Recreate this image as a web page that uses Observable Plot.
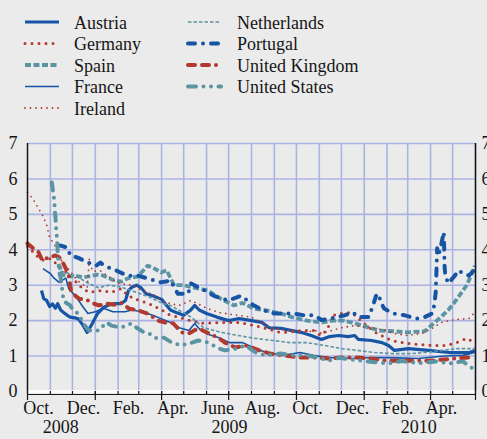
<!DOCTYPE html>
<html><head><meta charset="utf-8">
<script src="https://cdn.jsdelivr.net/npm/d3@7"></script>
<script src="https://cdn.jsdelivr.net/npm/@observablehq/plot@0.6"></script>
<style>
html,body{margin:0;padding:0;background:#ebebeb;overflow:hidden;}
#chart svg{display:block;}
</style></head><body>
<div id="chart"></div>
<script>
// ---- data (value in %, by date) ----
const austria = [["2008-10-20",2.85],["2008-10-23",2.62],["2008-10-27",2.57],["2008-10-31",2.4],["2008-11-04",2.47],["2008-11-08",2.35],["2008-11-11",2.48],["2008-11-15",2.3],["2008-11-19",2.23],["2008-11-24",2.15],["2008-11-28",2.1],["2008-12-04",2.08],["2008-12-09",2.05],["2008-12-15",1.88],["2008-12-21",1.67],["2008-12-28",1.92],["2009-01-04",2.2],["2009-01-12",2.37],["2009-01-20",2.45],["2009-01-27",2.48],["2009-02-05",2.48],["2009-02-11",2.57],["2009-02-15",2.85],["2009-02-20",2.95],["2009-02-26",3.0],["2009-03-04",2.93],["2009-03-11",2.76],["2009-03-20",2.7],["2009-04-01",2.6],["2009-04-13",2.3],["2009-04-22",2.22],["2009-05-01",2.15],["2009-05-10",2.29],["2009-05-16",2.43],["2009-05-22",2.3],["2009-06-01",2.2],["2009-06-15",2.1],["2009-07-01",2.0],["2009-07-15",2.06],["2009-08-01",2.0],["2009-08-15",1.95],["2009-08-25",1.8],["2009-09-10",1.78],["2009-09-25",1.72],["2009-10-07",1.67],["2009-10-21",1.58],["2009-11-04",1.47],["2009-11-15",1.55],["2009-11-27",1.58],["2009-12-10",1.55],["2009-12-19",1.58],["2009-12-24",1.47],["2010-01-11",1.44],["2010-01-25",1.38],["2010-02-03",1.3],["2010-02-11",1.16],["2010-03-02",1.21],["2010-03-29",1.16],["2010-04-26",1.1],["2010-05-24",1.1],["2010-05-31",1.16]];
const germany = [["2008-10-01",4.1],["2008-10-15",3.8],["2008-10-23",3.7],["2008-11-01",3.75],["2008-11-15",3.5],["2008-12-01",3.2],["2008-12-15",2.9],["2008-12-24",2.8],["2009-01-09",2.85],["2009-01-23",2.8],["2009-02-05",2.9],["2009-02-15",2.7],["2009-03-01",2.57],["2009-03-13",2.5],["2009-04-01",2.3],["2009-04-13",2.15],["2009-04-24",2.1],["2009-05-10",2.0],["2009-05-28",1.92],["2009-06-21",1.95],["2009-07-14",1.95],["2009-08-06",1.86],["2009-08-20",1.78],["2009-08-31",1.72],["2009-09-09",1.67],["2009-09-18",1.67],["2009-10-06",1.72],["2009-10-24",1.72],["2009-11-03",1.58],["2009-11-12",1.75],["2009-11-19",2.15],["2009-12-01",2.2],["2009-12-15",2.23],["2010-01-01",1.92],["2010-01-16",1.67],["2010-01-30",1.52],["2010-02-08",1.44],["2010-02-26",1.36],["2010-04-04",1.3],["2010-04-22",1.3],["2010-05-06",1.38],["2010-05-20",1.5],["2010-05-31",1.38]];
const spain = [["2008-11-12",3.6],["2008-11-17",3.3],["2008-11-25",3.25],["2008-12-05",3.27],["2008-12-16",3.22],["2009-01-04",3.3],["2009-01-12",3.27],["2009-01-25",3.15],["2009-02-05",3.1],["2009-02-15",3.2],["2009-02-28",3.25],["2009-03-13",3.55],["2009-03-20",3.5],["2009-03-31",3.36],["2009-04-08",3.42],["2009-04-13",3.2],["2009-04-18",3.0],["2009-05-01",3.0],["2009-05-15",2.93],["2009-06-03",2.85],["2009-06-20",2.62],["2009-07-08",2.43],["2009-07-20",2.5],["2009-08-04",2.34],["2009-08-21",2.29],["2009-09-10",2.2],["2009-09-25",2.1],["2009-10-15",2.0],["2009-11-04",1.95],["2009-11-20",2.0],["2009-12-05",2.0],["2009-12-20",1.92],["2010-01-08",1.8],["2010-01-22",1.72],["2010-02-10",1.7],["2010-03-01",1.67],["2010-03-24",1.7],["2010-04-05",1.92],["2010-04-15",2.1],["2010-04-25",2.3],["2010-05-03",2.5],["2010-05-12",2.76],["2010-05-20",3.0],["2010-05-26",3.27],["2010-05-31",3.55]];
const france = [["2008-10-22",3.47],["2008-10-27",3.4],["2008-11-01",3.33],["2008-11-06",3.2],["2008-11-13",3.08],["2008-11-18",3.15],["2008-11-22",3.2],["2008-11-26",2.9],["2008-12-05",2.7],["2008-12-15",2.4],["2008-12-22",2.2],["2009-01-01",2.25],["2009-01-12",2.35],["2009-01-25",2.25],["2009-02-10",2.25],["2009-02-20",2.3],["2009-03-05",2.25],["2009-03-20",2.15],["2009-04-01",2.05],["2009-04-13",1.95],["2009-04-25",1.8],["2009-05-08",1.72],["2009-05-16",1.92],["2009-05-23",1.75],["2009-06-05",1.6],["2009-06-18",1.52],["2009-07-02",1.38],["2009-07-20",1.38],["2009-08-03",1.24],["2009-08-21",1.1],["2009-09-13",1.02],["2009-10-06",1.1],["2009-10-24",1.02],["2009-11-14",0.96],["2009-12-15",0.93],["2010-01-15",0.96],["2010-02-15",0.95],["2010-03-15",0.93],["2010-04-20",1.0],["2010-05-15",1.02],["2010-05-31",1.1]];
const ireland = [["2008-10-01",5.62],["2008-10-08",5.45],["2008-10-15",5.2],["2008-10-22",4.95],["2008-10-27",4.7],["2008-10-31",4.35],["2008-11-05",4.2],["2008-11-10",4.0],["2008-11-14",3.75],["2008-11-20",3.6],["2008-11-27",3.42],["2008-12-08",3.13],["2008-12-21",2.93],["2008-12-24",3.75],["2008-12-28",3.4],["2009-01-09",3.4],["2009-01-22",3.2],["2009-02-01",3.05],["2009-02-20",3.0],["2009-03-10",2.8],["2009-03-20",2.75],["2009-04-01",2.57],["2009-04-13",2.48],["2009-04-25",2.43],["2009-05-11",2.57],["2009-05-20",2.48],["2009-06-01",2.35],["2009-06-18",2.23],["2009-07-14",2.15],["2009-08-01",2.1],["2009-08-28",1.8],["2009-09-22",1.72],["2009-10-10",1.67],["2009-10-28",1.72],["2009-11-04",1.64],["2009-11-17",1.72],["2009-12-01",1.8],["2009-12-18",1.86],["2010-01-10",1.8],["2010-02-01",1.72],["2010-02-10",1.64],["2010-03-01",1.58],["2010-03-20",1.64],["2010-04-03",1.78],["2010-04-16",1.95],["2010-05-04",2.03],["2010-05-23",2.06],["2010-05-31",2.23]];
const netherlands = [["2008-11-15",3.4],["2008-11-27",3.33],["2008-12-09",3.22],["2008-12-23",3.05],["2009-01-05",2.93],["2009-01-20",3.0],["2009-02-05",2.95],["2009-03-03",2.76],["2009-03-17",2.65],["2009-04-01",2.5],["2009-04-13",2.43],["2009-05-11",2.1],["2009-05-28",1.8],["2009-06-21",1.67],["2009-07-14",1.58],["2009-08-06",1.5],["2009-08-30",1.44],["2009-09-22",1.38],["2009-10-15",1.38],["2009-11-08",1.3],["2009-12-01",1.21],["2009-12-23",1.16],["2010-01-15",1.1],["2010-02-08",1.07],["2010-03-07",1.07],["2010-03-24",1.1],["2010-04-16",1.16],["2010-05-08",1.21],["2010-05-31",1.21]];
const portugal = [["2008-11-12",4.12],["2008-11-15",4.12],["2008-11-24",4.06],["2008-11-28",3.84],["2008-12-08",3.78],["2008-12-16",3.7],["2008-12-22",3.64],["2009-01-02",3.55],["2009-01-08",3.64],["2009-01-13",3.55],["2009-01-19",3.5],["2009-01-29",3.42],["2009-02-04",3.36],["2009-02-14",3.27],["2009-02-28",3.27],["2009-03-13",3.19],["2009-03-31",3.08],["2009-04-13",3.13],["2009-04-23",2.76],["2009-05-07",2.76],["2009-05-11",3.05],["2009-06-03",2.8],["2009-06-11",2.7],["2009-06-30",2.57],["2009-07-18",2.7],["2009-08-04",2.43],["2009-08-18",2.29],["2009-09-01",2.2],["2009-09-14",2.2],["2009-09-28",2.2],["2009-10-12",2.15],["2009-10-25",2.15],["2009-11-04",2.02],["2009-11-17",2.06],["2009-12-05",2.15],["2009-12-17",2.23],["2009-12-24",2.1],["2010-01-07",2.1],["2010-01-13",2.43],["2010-01-17",2.7],["2010-01-20",2.76],["2010-01-24",2.5],["2010-01-28",2.34],["2010-02-10",2.2],["2010-02-25",2.15],["2010-03-13",2.06],["2010-03-24",2.1],["2010-04-03",2.2],["2010-04-06",2.43],["2010-04-08",2.8],["2010-04-09",3.4],["2010-04-10",4.04],["2010-04-12",3.84],["2010-04-16",4.2],["2010-04-19",4.5],["2010-04-20",3.55],["2010-04-21",3.27],["2010-04-25",3.05],["2010-05-04",3.27],["2010-05-09",3.42],["2010-05-13",3.36],["2010-05-23",3.27],["2010-05-29",3.4],["2010-05-31",3.3]];
const unitedKingdom = [["2008-10-01",4.18],["2008-10-09",4.04],["2008-10-16",3.93],["2008-10-21",3.7],["2008-10-29",3.78],["2008-11-08",3.84],["2008-11-15",3.76],["2008-11-22",3.47],["2008-11-26",3.27],["2008-11-29",2.85],["2008-12-05",2.7],["2008-12-10",2.62],["2008-12-22",2.57],["2008-12-30",2.48],["2009-01-06",2.43],["2009-01-16",2.48],["2009-01-27",2.45],["2009-02-05",2.5],["2009-02-16",2.34],["2009-02-28",2.29],["2009-03-13",2.2],["2009-03-27",2.0],["2009-04-05",1.95],["2009-04-17",1.92],["2009-04-28",1.67],["2009-05-08",1.64],["2009-05-15",1.72],["2009-05-21",1.78],["2009-06-18",1.5],["2009-06-26",1.38],["2009-07-10",1.24],["2009-07-24",1.3],["2009-08-12",1.16],["2009-08-26",1.07],["2009-09-13",1.02],["2009-10-06",0.96],["2009-10-28",0.96],["2009-11-14",0.93],["2009-12-01",0.96],["2009-12-20",0.96],["2010-01-10",0.93],["2010-01-30",0.87],["2010-03-01",0.87],["2010-04-01",0.87],["2010-05-04",0.93],["2010-05-23",0.96],["2010-05-31",1.02]];
const unitedStates = [["2008-11-03",5.9],["2008-11-05",5.6],["2008-11-06",5.45],["2008-11-07",5.17],["2008-11-08",4.9],["2008-11-09",4.55],["2008-11-10",4.32],["2008-11-11",3.93],["2008-11-12",3.64],["2008-11-13",3.36],["2008-11-15",3.22],["2008-11-19",2.55],["2008-11-28",2.43],["2008-12-02",2.29],["2008-12-09",2.2],["2008-12-14",2.0],["2008-12-18",1.86],["2008-12-23",1.72],["2009-01-06",1.72],["2009-01-16",1.95],["2009-01-23",1.86],["2009-02-05",1.8],["2009-02-19",1.92],["2009-02-26",1.8],["2009-03-08",1.67],["2009-03-15",1.64],["2009-03-25",1.5],["2009-04-04",1.52],["2009-04-15",1.38],["2009-04-28",1.3],["2009-05-12",1.38],["2009-05-21",1.44],["2009-06-04",1.38],["2009-06-18",1.21],["2009-06-26",1.16],["2009-07-10",1.21],["2009-07-24",1.3],["2009-08-07",1.1],["2009-08-21",1.02],["2009-09-09",1.07],["2009-09-27",1.02],["2009-10-15",1.02],["2009-10-29",0.96],["2009-11-14",0.87],["2009-11-28",0.95],["2009-12-15",0.9],["2010-01-05",0.85],["2010-02-03",0.79],["2010-02-20",0.86],["2010-03-15",0.8],["2010-04-10",0.85],["2010-04-26",0.79],["2010-05-15",0.85],["2010-05-28",0.65]];

const yTicks = [0,1,2,3,4,5,6,7];
const monthLabels = [["2008-10-16","Oct."],["2008-12-16","Dec."],["2009-02-15","Feb."],["2009-04-16","Apr."],["2009-06-16","June"],["2009-08-16","Aug."],["2009-10-16","Oct."],["2009-12-16","Dec."],["2010-02-15","Feb."],["2010-04-16","Apr."]];
const yearLabels = [["2008-11-15","2008"],["2009-07-02","2009"],["2010-03-16","2010"]];

// ---- styling ----
const BLUE = "#1655a5", RED = "#b3392f", TEAL = "#5b94a2", GRID = "#aab4e3", INK = "#161616";
const FONT = "'Liberation Serif', 'Times New Roman', serif";
const parse = d3.utcParse("%Y-%m-%d");
const series = [
  {name: "Austria", data: austria, stroke: BLUE, w: 3.2, dash: null, cap: "butt"},
  {name: "Germany", data: germany, stroke: RED, w: 3, dash: "0 7", cap: "round"},
  {name: "Spain", data: spain, stroke: TEAL, w: 3.8, dash: "6 2.5", cap: "butt"},
  {name: "France", data: france, stroke: BLUE, w: 1.6, dash: null, cap: "butt"},
  {name: "Ireland", data: ireland, stroke: RED, w: 1.8, dash: "0 5.5", cap: "round"},
  {name: "Netherlands", data: netherlands, stroke: TEAL, w: 1.6, dash: "3.5 2", cap: "butt"},
  {name: "Portugal", data: portugal, stroke: BLUE, w: 4, dash: "7 8 0 8", cap: "round"},
  {name: "United Kingdom", data: unitedKingdom, stroke: RED, w: 4, dash: "7 7 7 7 0 7", cap: "round"},
  {name: "United States", data: unitedStates, stroke: TEAL, w: 4, dash: "8 7.5 0 7.5 0 7.5", cap: "round"}
];

// ---- legend (HTML/SVG above the plot) ----
const chart = document.getElementById("chart");
const leg = d3.create("svg").attr("width", 487).attr("height", 120).style("display","block").style("background","#ebebeb");
series.forEach((s, i) => {
  const col = i < 5 ? 0 : 1, row = i < 5 ? i : i - 5;
  const y = 22 + row * 21.5;
  const x0 = col ? 188 : 25, x1 = col ? 221 : 59, tx = col ? 237 : 74;
  leg.append("line").attr("x1", x0).attr("x2", x1).attr("y1", y).attr("y2", y)
    .attr("stroke", s.stroke).attr("stroke-width", s.w)
    .attr("stroke-dasharray", s.dash).attr("stroke-linecap", s.cap);
  leg.append("text").attr("x", tx).attr("y", y + 6.5).text(s.name)
    .attr("font-family", FONT).attr("font-size", 18).attr("fill", INK);
});
chart.appendChild(leg.node());

// ---- plot ----
const xDomain = [parse("2008-10-01"), parse("2010-06-01")];
const monthStarts = d3.utcMonths(xDomain[0], d3.utcDay.offset(xDomain[1], 1));
const quarterTicks = monthStarts.filter(d => d.getUTCMonth() % 3 === 0).concat([xDomain[1]]);
const empty = () => "";
const intFmt = d => String(d);

const lineMarks = series.map(s => Plot.line(s.data, {
  x: d => parse(d[0]), y: d => d[1],
  stroke: s.stroke, strokeWidth: s.w, strokeDasharray: s.dash,
  strokeLinecap: s.cap, strokeLinejoin: "round"
}));

const plot = Plot.plot({
  width: 487, height: 319,
  marginLeft: 27, marginRight: 12, marginTop: 23, marginBottom: 48,
  style: {background: "#ebebeb", fontFamily: FONT, fontSize: "18px", color: INK, overflow: "hidden"},
  x: {type: "utc", domain: xDomain, label: null},
  y: {domain: [0, 7], label: null},
  marks: [
    Plot.ruleY(yTicks.slice(1), {stroke: GRID, strokeWidth: 1.6}),
    Plot.ruleX(monthStarts.slice(1), {stroke: GRID, strokeWidth: 1.6}),
    ...lineMarks,
    Plot.ruleY([0], {stroke: "white", strokeWidth: 2.5}),
    Plot.ruleY([0], {stroke: INK, strokeWidth: 1.2, dy: 3}),
    Plot.ruleX(xDomain, {stroke: INK, strokeWidth: 1.5}),
    Plot.axisX({ticks: monthStarts, tickSize: 3, tickFormat: empty, label: null, stroke: INK, strokeWidth: 1.2}),
    Plot.axisX({ticks: quarterTicks, tickSize: 9, tickFormat: empty, label: null, stroke: INK, strokeWidth: 1.2}),
    Plot.axisY({ticks: yTicks, tickSize: 0, tickPadding: 10, tickFormat: intFmt, label: null, fontSize: 18, fill: INK}),
    Plot.axisY({anchor: "right", ticks: yTicks, tickSize: 0, tickPadding: 6, tickFormat: intFmt, label: null, fontSize: 18, fill: INK}),
    Plot.text(monthLabels, {x: d => parse(d[0]), text: d => d[1], frameAnchor: "bottom", dy: 22, fontSize: 18, fill: INK}),
    Plot.text(yearLabels, {x: d => parse(d[0]), text: d => d[1], frameAnchor: "bottom", dy: 41, fontSize: 18, fill: INK})
  ]
});
chart.appendChild(plot);
</script>
</body></html>
